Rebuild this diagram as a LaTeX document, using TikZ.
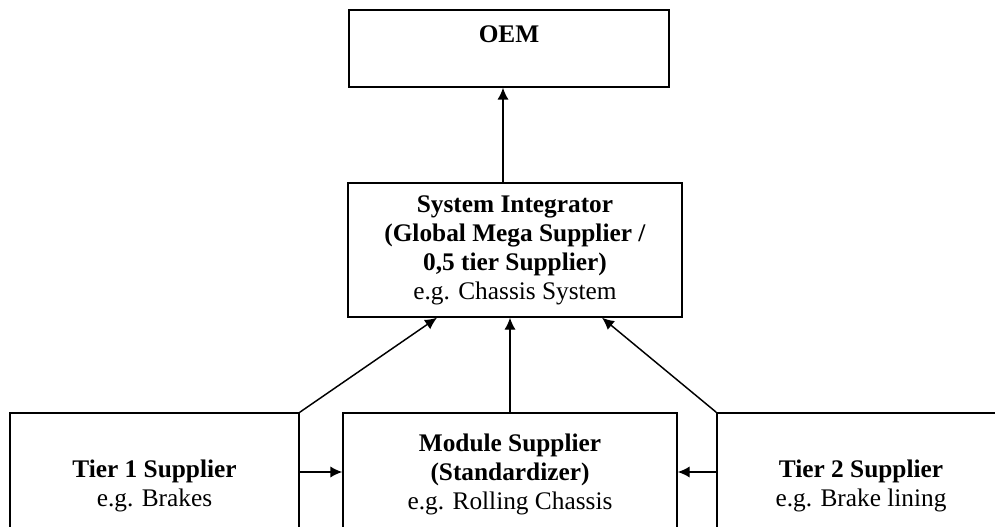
\documentclass[tikz,border=0pt]{standalone}
\usepackage{fontspec}
\setmainfont{Liberation Serif}
\usepackage{tikz}
\usetikzlibrary{calc}
\usetikzlibrary{shapes.geometric, arrows.meta}
\tikzstyle{arrow} = [line width=1.1pt,-{Latex[length=9pt,width=8.5pt]}]
\tikzstyle{tier} = [rectangle, draw=black, line width=1.1pt, inner sep=0pt, align=center, font=\fontsize{19pt}{21.75pt}\selectfont]

\begin{document}
\begin{tikzpicture}[x=0.75pt, y=-0.75pt]

\clip (0,0) rectangle (995,527);

\node (oem) [tier, minimum width=240pt, minimum height=57.75pt] at (509,48.5) {\textbf{OEM}\\ ~};
\node (si) [tier, minimum width=250.5pt, minimum height=100.5pt] at (515,250) {\textbf{System Integrator}\\ \textbf{(Global Mega Supplier /}\\ \textbf{0,5 tier Supplier)}\\ e.g. Chassis System};
\node (t1) [tier, minimum width=216.75pt, minimum height=109.5pt] at (154.5,486) {\textbf{Tier 1 Supplier}\\ e.g. Brakes};
\node (mod) [tier, minimum width=250.5pt, minimum height=91.5pt] at (510,474) {\textbf{Module Supplier}\\ \textbf{(Standardizer)}\\ e.g. Rolling Chassis};
\node (t2) [tier, minimum width=216pt, minimum height=109.5pt] at (861,486) {\textbf{Tier 2 Supplier}\\ e.g. Brake lining};

\draw [arrow] ([xshift=-9pt]si.north) -- ([xshift=-4.5pt]oem.south);
\draw [arrow] (t1.north east) -- ([xshift=-58.5pt]si.south);
\draw [arrow] (mod.north) -- (mod.north |- si.south);
\draw [arrow] (t2.north west) -- ([xshift=65.25pt]si.south);
\draw [arrow] ([yshift=1.5pt]t1.east |- mod.west) -- ([yshift=1.5pt]mod.west);
\draw [arrow] ([yshift=1.5pt]t2.west |- mod.east) -- ([yshift=1.5pt]mod.east);
\end{tikzpicture}
\end{document}
